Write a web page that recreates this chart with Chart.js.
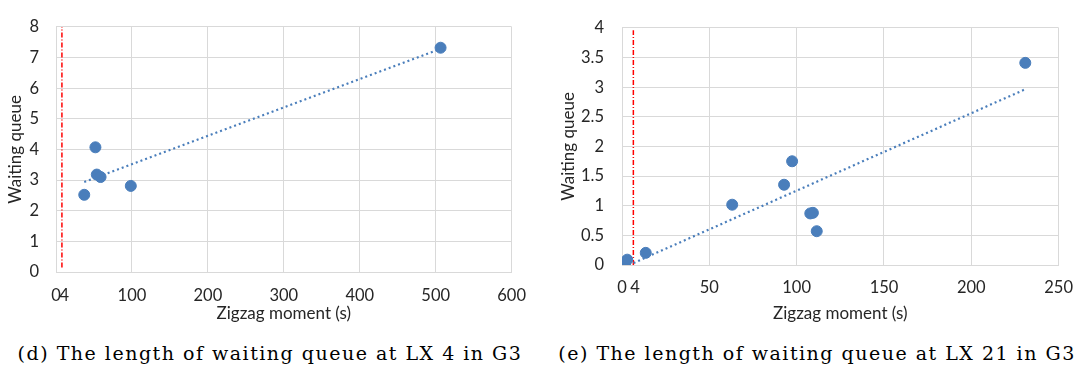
<!DOCTYPE html>
<html>
<head>
<meta charset="utf-8">
<script src="https://cdn.jsdelivr.net/npm/chart.js@4.4.0/dist/chart.umd.min.js"></script>
<style>
  body { margin: 0; background: #fff; width: 1086px; height: 374px; position: relative; overflow: hidden; }
  canvas { position: absolute; top: 0; }
  #chartD { left: 0; }
  #chartE { left: 540px; }
  .caption {
    position: absolute; top: 342px; transform: translateX(-50%);
    font-family: "DejaVu Serif", serif; font-size: 19px; letter-spacing: 1.5px;
    color: #000; white-space: nowrap;
  }
</style>
</head>
<body>
<canvas id="chartD" width="540" height="330"></canvas>
<canvas id="chartE" width="546" height="330"></canvas>
<div class="caption" style="left:270px">(d) The length of waiting queue at LX 4 in G3</div>
<div class="caption" style="left:817px">(e) The length of waiting queue at LX 21 in G3</div>
<script>
// (d) LX 4
const lx4X = [37.2, 51.9, 53.7, 58.7, 98.5, 506.4];
const lx4Y = [2.52, 4.07, 3.18, 3.10, 2.81, 7.32];
const lx4TrendX = [37.2, 503.7];
const lx4TrendY = [2.94, 7.26];
const lx4Limit = 7.8;
const lx4LimitY = [0.15, 8];
const lx4XTicks = [0, 11, 100, 200, 300, 400, 500, 600];
const lx4XLabels = ['0', '4', '100', '200', '300', '400', '500', '600'];
const lx4YTicks = [0, 1, 2, 3, 4, 5, 6, 7, 8];

// (e) LX 21
const lx21X = [1.0, 3.0, 13.6, 63.1, 92.8, 97.4, 107.8, 109.3, 111.5, 230.9];
const lx21Y = [0.03, 0.09, 0.205, 1.017, 1.354, 1.75, 0.87, 0.88, 0.57, 3.41];
const lx21TrendX = [4, 230.5];
const lx21TrendY = [0, 2.96];
const lx21Limit = 6.5;
const lx21LimitY = [0, 3.96];
const lx21XTicks = [0, 7.4, 50, 100, 150, 200, 250];
const lx21XLabels = ['0', '4', '50', '100', '150', '200', '250'];
const lx21YTicks = [0, 0.5, 1, 1.5, 2, 2.5, 3, 3.5, 4];

const blue = '#4a7ebb';
const gridColor = '#d9d9d9';
const textColor = '#262626';
const tickFont = { family: 'Lato', size: 16.5 };
const titleFont = { family: 'Lato', size: 17 };

const pts = (xs, ys) => xs.map((x, i) => ({ x: x, y: ys[i] }));

function makeChart(id, c) {
  return new Chart(document.getElementById(id), {
    type: 'scatter',
    data: {
      datasets: [
        { data: pts(c.x, c.y), backgroundColor: blue, borderColor: blue,
          pointRadius: 5.5, pointHoverRadius: 5.5, order: 1 },
        { type: 'line', data: pts(c.trendX, c.trendY), borderColor: blue,
          borderWidth: 2.2, borderDash: [2, 3], pointRadius: 0, fill: false, order: 2 },
        { type: 'line', data: pts([c.limit, c.limit], c.limitY), borderColor: '#ff0000',
          borderWidth: 1.5, borderDash: [5, 2, 1, 2], pointRadius: 0, fill: false, order: 3 }
      ]
    },
    options: {
      responsive: false,
      animation: false,
      events: [],
      layout: { padding: { top: c.padTop, right: c.padRight, bottom: 0, left: 0 } },
      plugins: { legend: { display: false }, tooltip: { enabled: false } },
      scales: {
        x: {
          type: 'linear', min: 0, max: c.xMax,
          afterBuildTicks: s => { s.ticks = c.xTicks.map(v => ({ value: v })); },
          afterFit: s => { s.height = c.xAxisH; },
          ticks: { autoSkip: false, maxRotation: 0, minRotation: 0, padding: c.xPad,
                   font: tickFont, color: textColor,
                   callback: (v, i) => c.xLabels[i] },
          grid: { drawTicks: false, lineWidth: 1,
                  // the "4" label marks the red limit line, it has no grid line of its own
                  color: ctx => (ctx.tick && ctx.index === 1) ? 'rgba(0,0,0,0)' : gridColor },
          border: { color: gridColor },
          title: { display: true, text: 'Zigzag moment (s)', font: titleFont, color: textColor,
                   padding: { top: 0, bottom: 6 } }
        },
        y: {
          type: 'linear', min: 0, max: c.yMax,
          afterBuildTicks: s => { s.ticks = c.yTicks.map(v => ({ value: v })); },
          afterFit: s => { s.width = c.yAxisW; },
          ticks: { padding: c.yPad, font: tickFont, color: textColor,
                   callback: v => String(v) },
          grid: { drawTicks: false, color: gridColor, lineWidth: 1 },
          border: { color: gridColor },
          title: { display: true, text: 'Waiting queue', font: titleFont, color: textColor,
                   padding: { top: c.yTitlePad, bottom: 0 } }
        }
      }
    }
  });
}

makeChart('chartD', {
  x: lx4X, y: lx4Y, trendX: lx4TrendX, trendY: lx4TrendY,
  limit: lx4Limit, limitY: lx4LimitY,
  xTicks: lx4XTicks, xLabels: lx4XLabels, yTicks: lx4YTicks,
  xMax: 600, yMax: 8,
  padTop: 13, padRight: 22, xAxisH: 58, yAxisW: 56, yPad: 17, xPad: 14, yTitlePad: 5
});

makeChart('chartE', {
  x: lx21X, y: lx21Y, trendX: lx21TrendX, trendY: lx21TrendY,
  limit: lx21Limit, limitY: lx21LimitY,
  xTicks: lx21XTicks, xLabels: lx21XLabels, yTicks: lx21YTicks,
  xMax: 250, yMax: 4,
  padTop: 13, padRight: 20, xAxisH: 65, yAxisW: 82, yPad: 18, xPad: 13, yTitlePad: 18
});
</script>
</body>
</html>
